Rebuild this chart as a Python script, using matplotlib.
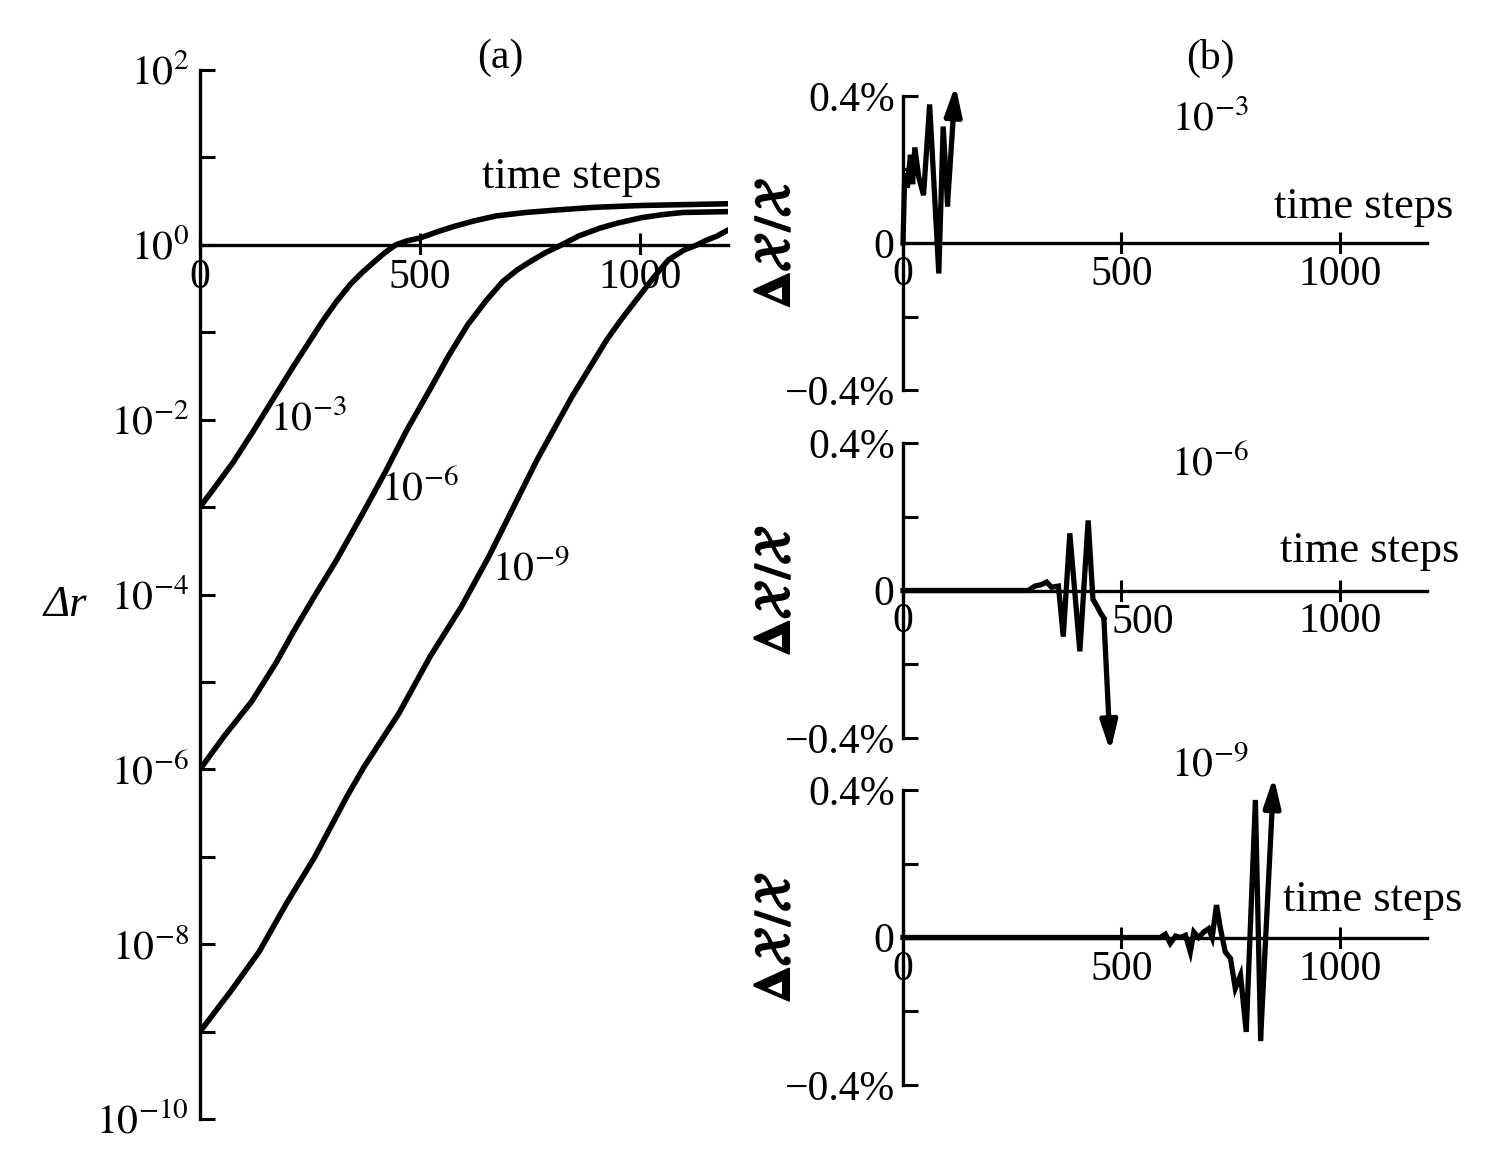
import matplotlib
matplotlib.use("Agg")
import matplotlib.pyplot as plt
import matplotlib.patheffects as pe
from matplotlib.ticker import FixedLocator, FixedFormatter, NullLocator

plt.rcParams['font.family'] = ['Liberation Serif', 'DejaVu Serif']
plt.rcParams['mathtext.fontset'] = 'stix'

# ---------------- data ----------------
# Panel (a): log10 of the distance Δr versus time steps, three initial perturbations
steps_1e3 = [0, 40, 75, 120, 169, 216, 279, 310, 342, 370, 397, 420, 445, 470, 501, 540, 577, 620,
             672, 740, 814, 900, 1003, 1100, 1200]
logdr_1e3 = [-3.0, -2.73, -2.49, -2.14, -1.74, -1.36, -0.87, -0.65, -0.45, -0.31, -0.19, -0.09, 0.0,
             0.045, 0.08, 0.15, 0.21, 0.27, 0.33, 0.37, 0.40, 0.43, 0.45, 0.46, 0.47]

steps_1e6 = [0, 55, 118, 173, 213, 260, 311, 350, 381, 421, 470, 523, 565, 609, 650, 688, 720, 751,
             785, 822, 860, 908, 950, 1003, 1050, 1097, 1150, 1200]
logdr_1e6 = [-6.0, -5.62, -5.22, -4.78, -4.42, -4.02, -3.60, -3.25, -2.97, -2.60, -2.12, -1.65, -1.27,
             -0.91, -0.64, -0.42, -0.29, -0.19, -0.09, 0.0, 0.10, 0.19, 0.25, 0.31, 0.345, 0.37, 0.375, 0.38]

steps_1e9 = [0, 71, 134, 197, 260, 334, 373, 452, 523, 594, 656, 767, 845, 924, 955, 987, 1030, 1065,
             1100, 1130, 1150, 1175, 1200]
logdr_1e9 = [-9.0, -8.53, -8.09, -7.53, -7.01, -6.31, -5.97, -5.36, -4.71, -4.14, -3.57, -2.45, -1.74,
             -1.09, -0.87, -0.66, -0.38, -0.17, -0.06, 0.0, 0.05, 0.10, 0.17]

curve_labels_a = [r'$10^{-3}$', r'$10^{-6}$', r'$10^{-9}$']
curve_label_steps = [246, 500, 752]
curve_label_logs = [-2.0, -2.8, -3.72]

y_decades = list(range(-10, 3))
y_label_decades = [-10, -8, -6, -4, -2, 0, 2]
x_ticks = [0, 500, 1000]
x_ticklabels = ['0', '500', '1000']

# Panel (b): relative error ΔX/X (in %) versus time steps
steps_b1 = [0, 4, 10, 17, 22, 27, 36, 47, 61, 70, 82, 92, 102, 120]
dx_b1 = [0.0, 0.19, 0.15, 0.24, 0.16, 0.26, 0.18, 0.13, 0.377, 0.18, -0.083, 0.317, 0.106, 0.43]

steps_b2 = [0, 100, 200, 287, 302, 317, 329, 340, 356, 367, 382, 405, 424, 435, 443, 452, 460, 475]
dx_b2 = [0.0, 0.0, 0.0, 0.0, 0.012, 0.016, 0.023, 0.009, 0.012, -0.125, 0.155, -0.165, 0.19, -0.024,
         -0.04, -0.06, -0.075, -0.437]

steps_b3 = [0, 300, 589, 601, 612, 624, 635, 647, 658, 666, 677, 689, 700, 708, 718, 727, 738, 750,
            761, 773, 786, 807, 819, 849]
dx_b3 = [0.0, 0.0, 0.0, 0.009, -0.016, 0.004, 0.0, 0.006, -0.039, 0.015, 0.0, 0.015, 0.024, 0.0, 0.088,
         0.024, -0.039, -0.057, -0.138, -0.102, -0.256, 0.373, -0.274, 0.436]

b_labels = [r'$10^{-3}$', r'$10^{-6}$', r'$10^{-9}$']
b_yticks = [-0.4, -0.2, 0.0, 0.2, 0.4]
b_yticklabels = ['\u22120.4%', '', '0', '', '0.4%']

# ---------------- figure ----------------
W, H = 1496, 1160
fig = plt.figure(figsize=(W / 100, H / 100), dpi=100)
fig.patch.set_facecolor('white')


def rect(x0, y0, x1, y1):
    return [x0 / W, 1 - y1 / H, (x1 - x0) / W, (y1 - y0) / H]


FS = 30
SPW = 2.4
WHITE_BOX = dict(facecolor='white', edgecolor='none', pad=2)

# ---- panel (a) ----
axa = fig.add_axes(rect(200, 70, 728, 1119))
axa.set_yscale('log')
axa.set_xlim(0, 1200)
axa.set_ylim(1e-10, 1e2)
for s, l in [(steps_1e3, logdr_1e3), (steps_1e6, logdr_1e6), (steps_1e9, logdr_1e9)]:
    axa.plot(s, [10.0 ** v for v in l], color='black', lw=4.0,
             solid_capstyle='round', solid_joinstyle='round', zorder=2)
for t, xs, yl in zip(curve_labels_a, curve_label_steps, curve_label_logs):
    axa.text(xs, 10.0 ** yl, t, fontsize=FS, ha='center', va='center')
axa.text(845, 10.0 ** 0.78, 'time steps', fontsize=32, ha='center', va='center')

for side in ['top', 'right']:
    axa.spines[side].set_visible(False)
axa.spines['bottom'].set_position(('data', 1.0))
axa.spines['left'].set_linewidth(SPW)
axa.spines['bottom'].set_linewidth(SPW)
axa.yaxis.set_major_locator(FixedLocator([10.0 ** k for k in y_decades]))
axa.yaxis.set_major_formatter(FixedFormatter(
    [r'$10^{%d}$' % k if k in y_label_decades else '' for k in y_decades]))
axa.yaxis.set_minor_locator(NullLocator())
axa.tick_params(axis='y', direction='in', length=11, width=2.2, labelsize=FS, pad=8)
axa.xaxis.set_major_locator(FixedLocator(x_ticks))
axa.xaxis.set_major_formatter(FixedFormatter(x_ticklabels))
axa.tick_params(axis='x', direction='inout', length=17, width=2.2, labelsize=FS, pad=1)
for lbl in axa.get_xticklabels():
    lbl.set_bbox(WHITE_BOX)
axa.patch.set_alpha(0)

fig.text(500 / W, 1 - 58 / H, '(a)', fontsize=FS, ha='center', va='center')
fig.text(1210 / W, 1 - 58 / H, '(b)', fontsize=FS, ha='center', va='center')
fig.text(65 / W, 1 - 605 / H, '\u0394r', fontsize=32, fontstyle='italic',
         family=['Liberation Serif', 'DejaVu Serif'], ha='center', va='center')

# ---- panel (b) ----
b_rects = [rect(903, 96, 1427, 390), rect(903, 443, 1427, 738), rect(903, 790, 1427, 1085)]
b_data = [(steps_b1, dx_b1), (steps_b2, dx_b2), (steps_b3, dx_b3)]
b_lab_pos = [(703, 0.334), (703, 0.34), (703, 0.465)]
b_ts_pos = [(1055, 0.099), (1069, 0.106), (1076, 0.103)]
# the middle panel prints its "500" label shifted right of the tick
b_hidden_xlabel = [None, 1, None]

for i, (r, (s, v), lab, lp, tp) in enumerate(zip(b_rects, b_data, b_labels, b_lab_pos, b_ts_pos)):
    ax = fig.add_axes(r)
    ax.set_xlim(0, 1200)
    ax.set_ylim(-0.4, 0.4)
    ax.plot(s[:-1], v[:-1], color='black', lw=3.8, clip_on=False,
            solid_joinstyle='miter', zorder=2)
    ax.annotate('', xy=(s[-1], v[-1]), xytext=(s[-2], v[-2]),
                arrowprops=dict(arrowstyle='-|>,head_length=0.7,head_width=0.2',
                                color='black', lw=3.8, shrinkA=0, shrinkB=0,
                                mutation_scale=25),
                annotation_clip=False)
    for side in ['top', 'right']:
        ax.spines[side].set_visible(False)
    ax.spines['bottom'].set_position(('data', 0.0))
    ax.spines['left'].set_linewidth(SPW)
    ax.spines['bottom'].set_linewidth(SPW)
    ax.yaxis.set_major_locator(FixedLocator(b_yticks))
    ax.yaxis.set_major_formatter(FixedFormatter(b_yticklabels))
    ax.tick_params(axis='y', direction='in', length=11, width=2.2, labelsize=FS, pad=6)
    ax.xaxis.set_major_locator(FixedLocator(x_ticks))
    labels = list(x_ticklabels)
    if b_hidden_xlabel[i] is not None:
        k = b_hidden_xlabel[i]
        ax.text(x_ticks[k] + 50, -0.087, labels[k], fontsize=FS, ha='center', va='center',
                bbox=dict(facecolor='white', edgecolor='none', pad=1), zorder=3)
        labels[k] = ''
    ax.xaxis.set_major_formatter(FixedFormatter(labels))
    ax.tick_params(axis='x', direction='inout', length=16, width=2.2, labelsize=FS, pad=1)
    for lbl in ax.get_xticklabels():
        lbl.set_bbox(dict(facecolor='white', edgecolor='none', pad=1))
    ax.text(lp[0], lp[1], lab, fontsize=FS, ha='center', va='center')
    ax.text(tp[0], tp[1], 'time steps', fontsize=32, ha='center', va='center')
    yl = ax.set_ylabel(r'$\mathbf{\Delta}\mathcal{X}\,/\mathcal{X}$', fontsize=36)
    yl.set_path_effects([pe.withStroke(linewidth=1.5, foreground='black')])
    ax.yaxis.set_label_coords((800 - 903) / 524, 0.5)
    ax.patch.set_alpha(0)

fig.savefig('out.png', dpi=100, facecolor='white')
